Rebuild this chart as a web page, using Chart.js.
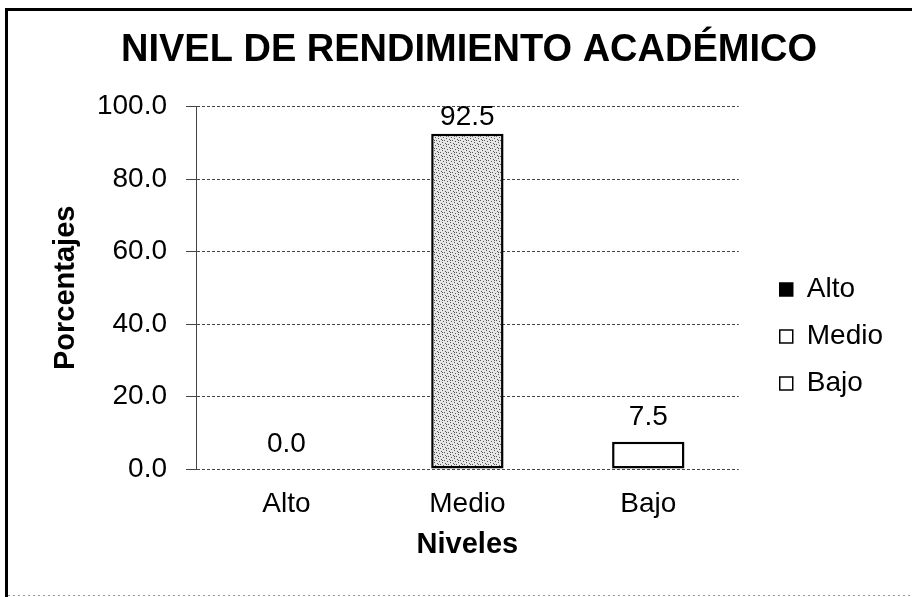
<!DOCTYPE html>
<html>
<head>
<meta charset="utf-8">
<script src="https://cdn.jsdelivr.net/npm/chart.js@4/dist/chart.umd.min.js"></script>
<style>
  html, body { margin: 0; padding: 0; background: #fff; }
  #wrap { width: 912px; height: 597px; }
</style>
</head>
<body>
<div id="wrap"><canvas id="chart" width="912" height="597"></canvas></div>
<script>
/* Nivel de rendimiento académico — bar chart */

const categories = ['Alto', 'Medio', 'Bajo'];
const percentages = [0.0, 92.5, 7.5];
const yTicks = [0, 20, 40, 60, 80, 100];

const FONT = '"Liberation Sans", Arial, sans-serif';

// stippled grey fill like the scanned Medio bar
function stipple() {
    const c = document.createElement('canvas');
    c.width = 8; c.height = 8;
    const g = c.getContext('2d');
    g.fillStyle = '#e6e6e6';
    g.fillRect(0, 0, 8, 8);
    g.fillStyle = '#555';
    [[0, 0], [3, 1], [6, 2], [1, 3], [4, 4], [7, 5], [2, 6], [5, 7], [6, 0], [2, 4]].forEach(function (p) {
        g.fillRect(p[0], p[1], 1, 1);
    });
    return g.createPattern(c, 'repeat');
}

const barFills = ['#000000', stipple(), '#ffffff'];
const legendFills = ['#000000', '#ffffff', '#ffffff'];

const framePlugin = {
    id: 'frame',
    beforeDraw: function (chart) {
        const ctx = chart.ctx;
        ctx.save();
        ctx.fillStyle = '#fff';
        ctx.fillRect(0, 0, chart.width, chart.height);
        ctx.strokeStyle = '#000';
        ctx.lineWidth = 3;
        ctx.beginPath();
        ctx.moveTo(6.5, 8);
        ctx.lineTo(6.5, chart.height);
        ctx.moveTo(5, 9.5);
        ctx.lineTo(chart.width, 9.5);
        ctx.stroke();
        ctx.strokeStyle = '#999';
        ctx.lineWidth = 1;
        ctx.setLineDash([2, 3]);
        ctx.beginPath();
        ctx.moveTo(8, 595.5);
        ctx.lineTo(chart.width, 595.5);
        ctx.stroke();
        ctx.restore();
    }
};

const valueLabels = {
    id: 'valueLabels',
    afterDatasetsDraw: function (chart) {
        const ctx = chart.ctx;
        const meta = chart.getDatasetMeta(0);
        ctx.save();
        ctx.font = '28px ' + FONT;
        ctx.fillStyle = '#000';
        ctx.textAlign = 'center';
        ctx.textBaseline = 'middle';
        meta.data.forEach(function (bar, i) {
            const y = Math.max(bar.y - 25, chart.chartArea.top + 11);
            ctx.fillText(percentages[i].toFixed(1), bar.x, y);
        });
        ctx.restore();
    }
};

new Chart(document.getElementById('chart'), {
    type: 'bar',
    data: {
        labels: categories,
        datasets: [{
            data: percentages,
            backgroundColor: barFills,
            borderColor: '#000',
            borderWidth: 2.5,
            borderSkipped: false,
            categoryPercentage: 1,
            barPercentage: 0.4
        }]
    },
    options: {
        responsive: false,
        animation: false,
        layout: { padding: { left: 45, right: 19, top: 0, bottom: 31 } },
        plugins: {
            title: {
                display: true,
                text: 'NIVEL DE RENDIMIENTO ACADÉMICO',
                color: '#000',
                font: { family: FONT, size: 38, weight: 'bold' },
                padding: { top: 28, bottom: 33 }
            },
            legend: {
                position: 'right',
                align: 'start',
                title: { display: true, text: ' ', font: { size: 12 }, padding: { top: 242, bottom: 0 } },
                labels: {
                    color: '#000',
                    font: { family: FONT, size: 28 },
                    boxWidth: 13,
                    boxHeight: 13,
                    padding: 19,
                    generateLabels: function () {
                        return categories.map(function (c, i) {
                            return {
                                text: c, fillStyle: legendFills[i], strokeStyle: '#000', fontColor: '#000',
                                lineWidth: 1.5, hidden: false, index: i, datasetIndex: 0
                            };
                        });
                    }
                }
            },
            tooltip: { enabled: false }
        },
        scales: {
            x: {
                afterFit: function (s) { s.height = 97; },
                grid: { display: false, drawTicks: false },
                border: { display: false },
                ticks: { color: '#000', font: { family: FONT, size: 28 }, padding: 18 },
                title: {
                    display: true, text: 'Niveles', color: '#000',
                    font: { family: FONT, size: 29, weight: 'bold' },
                    padding: { top: 4, bottom: 4 }
                }
            },
            y: {
                min: 0,
                max: 100,
                afterBuildTicks: function (s) { s.ticks = yTicks.map(function (v) { return { value: v }; }); },
                afterFit: function (s) { s.width = 151; },
                grid: { color: '#444', lineWidth: 1, tickLength: 10 },
                border: { display: true, color: '#444', dash: [3, 2] },
                ticks: {
                    color: '#000',
                    font: { family: FONT, size: 28 },
                    padding: 19,
                    callback: function (v) { return Number(v).toFixed(1); }
                },
                title: {
                    display: true, text: 'Porcentajes', color: '#000',
                    font: { family: FONT, size: 29, weight: 'bold' },
                    padding: { top: 4, bottom: 20 }
                }
            },
            spacer: {
                type: 'linear',
                position: 'right',
                display: true,
                grid: { display: false, drawTicks: false },
                border: { display: false },
                ticks: { display: false },
                afterFit: function (s) { s.width = 22; }
            }
        }
    },
    plugins: [framePlugin, valueLabels]
});
</script>
</body>
</html>
